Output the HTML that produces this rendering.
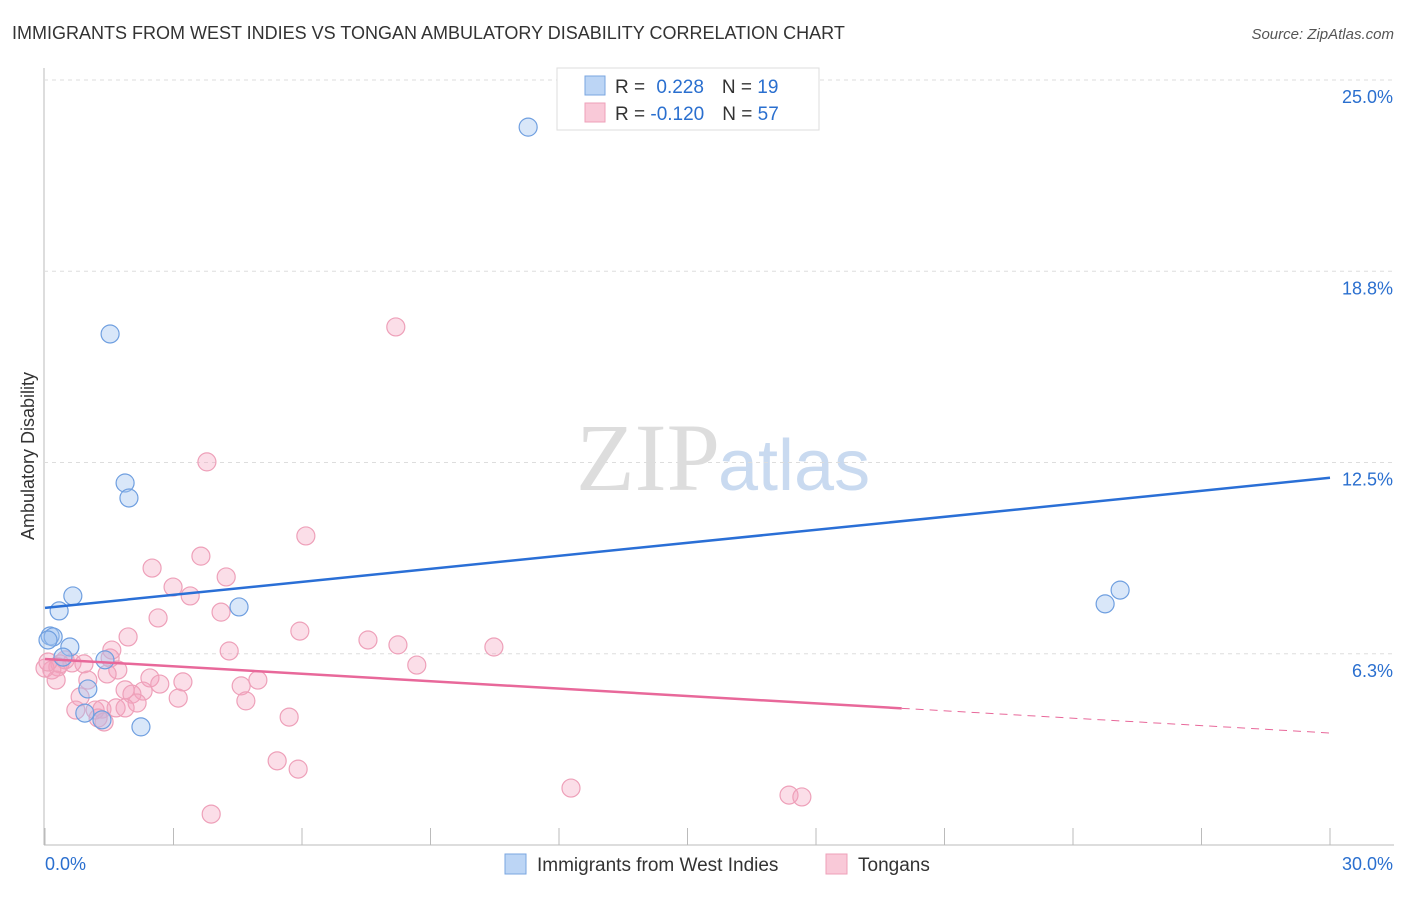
<!DOCTYPE html>
<html><head><meta charset="utf-8"><style>
body{margin:0;background:#fff;font-family:"Liberation Sans",sans-serif}
</style></head><body>
<svg id="c" width="1406" height="892" xmlns="http://www.w3.org/2000/svg" font-family="Liberation Sans, sans-serif">
<text x="12" y="39" font-size="18" fill="#333">IMMIGRANTS FROM WEST INDIES VS TONGAN AMBULATORY DISABILITY CORRELATION CHART</text>
<text x="1394" y="39" font-size="15" fill="#555" text-anchor="end" font-style="italic">Source: ZipAtlas.com</text>
<text x="720" y="490" font-size="96" text-anchor="end" fill="#ddd" font-family="Liberation Serif, serif">ZIP</text>
<text x="718" y="490" font-size="72" fill="#c9daf0">atlas</text>
<g id="grid"></g><g id="marks"></g>
<text transform="translate(34,456) rotate(-90)" font-size="18" fill="#333" text-anchor="middle">Ambulatory Disability</text>
<g>
<rect x="557" y="68" width="262" height="62" fill="#fff" stroke="#ddd"/>
<rect x="585" y="76" width="20" height="19" fill="#bcd5f5" stroke="#7aa6e0"/>
<rect x="585" y="103" width="20" height="19" fill="#f9c9d8" stroke="#eea0b9"/>
<text x="615" y="93" font-size="19" fill="#333">R = <tspan fill="#2a6fcf" dx="6">0.228</tspan><tspan dx="18">N = </tspan><tspan fill="#2a6fcf">19</tspan></text>
<text x="615" y="120" font-size="19" fill="#333">R = <tspan fill="#2a6fcf">-0.120</tspan><tspan dx="18">N = </tspan><tspan fill="#2a6fcf">57</tspan></text>
</g>
<g>
<rect x="505" y="854" width="21" height="20" fill="#bcd5f5" stroke="#7aa6e0"/>
<text x="537" y="871" font-size="19" fill="#333">Immigrants from West Indies</text>
<rect x="826" y="854" width="21" height="20" fill="#f9c9d8" stroke="#eea0b9"/>
<text x="858" y="871" font-size="19" fill="#333">Tongans</text>
</g>
</svg>
<script>
const yTicks=[6.25,12.5,18.75,25];
const yTickLabels=["6.3%","12.5%","18.8%","25.0%"];
const xTickLabels=["0.0%","30.0%"];
const blueX=[11.28,1.52,1.87,1.96,0.65,0.33,4.53,0.12,0.19,0.58,0.42,1.40,1.00,0.93,1.33,2.24,24.75,25.10,0.07];
const blueY=[23.46,16.70,11.83,11.34,8.14,7.65,7.78,6.83,6.80,6.47,6.14,6.05,5.10,4.31,4.09,3.86,7.88,8.33,6.70];
const pinkX=[8.19,3.78,6.09,2.50,3.64,4.23,2.99,3.39,2.64,4.11,1.94,5.95,7.54,8.24,10.48,4.30,8.68,1.52,0.91,0.63,0.35,0.16,0.30,1.70,1.45,1.00,2.45,3.22,2.68,4.97,1.87,2.29,2.03,4.58,0.82,3.11,4.69,2.15,0.72,1.17,1.33,1.66,1.87,1.24,1.38,5.70,5.42,5.91,12.28,17.37,17.67,3.88,0.26,0.47,0,0.07,1.56];
const pinkY=[16.93,12.52,10.10,9.05,9.44,8.76,8.43,8.14,7.42,7.61,6.80,6.99,6.70,6.54,6.47,6.34,5.88,6.11,5.92,5.95,5.92,5.72,5.82,5.72,5.59,5.39,5.46,5.33,5.26,5.39,5.07,5.03,4.93,5.20,4.84,4.80,4.71,4.64,4.41,4.41,4.44,4.48,4.48,4.15,4.02,4.18,2.75,2.48,1.86,1.63,1.57,1.01,5.39,6.05,5.78,5.98,6.37];
const blueTrend=[7.75,12.0];
const pinkTrend=[6.08,3.66];
const pinkSolidEnd=20.0;
const X=v=>45+v/30*1285, Y=v=>845-v/25*765;
const NS="http://www.w3.org/2000/svg";
const g=document.getElementById('grid'), m=document.getElementById('marks');
function mk(p,t,a){const e=document.createElementNS(NS,t);for(const k in a)e.setAttribute(k,a[k]);p.appendChild(e);return e;}
let e=mk(g,'line',{x1:44,y1:68,x2:44,y2:845,stroke:'#bbb'});


e=mk(g,'line',{x1:44,y1:845,x2:1394,y2:845,stroke:'#bbb'});


yTicks.forEach((t,i)=>{
 e=mk(g,'line',{x1:44,x2:1394,y1:Y(t),y2:Y(t),stroke:'#ddd','stroke-dasharray':'4,4'});
 
 
 e=mk(g,'text',{x:1393,y:Y(t)+23,'font-size':18,fill:'#2a6fcf','text-anchor':'end'});
 e.textContent=yTickLabels[i];
 
 
});
for(let i=0;i<=10;i++){
 e=mk(g,'line',{x1:X(i*3),x2:X(i*3),y1:828,y2:845,stroke:'#bbb'});
 
 
}
e=mk(g,'text',{x:45,y:870,'font-size':18,fill:'#2a6fcf'});e.textContent=xTickLabels[0];


e=mk(g,'text',{x:1393,y:870,'font-size':18,fill:'#2a6fcf','text-anchor':'end'});e.textContent=xTickLabels[1];


pinkX.forEach((x,i)=>{
 e=mk(m,'circle',{cx:X(x),cy:Y(pinkY[i]),r:9,fill:'rgba(244,160,188,0.35)',stroke:'#eea0b9','stroke-width':1.2});
 
 
});
blueX.forEach((x,i)=>{
 e=mk(m,'circle',{cx:X(x),cy:Y(blueY[i]),r:9,fill:'rgba(160,195,240,0.4)',stroke:'#6f9fe0','stroke-width':1.2});
 
 
});
e=mk(m,'line',{x1:X(0),y1:Y(blueTrend[0]),x2:X(30),y2:Y(blueTrend[1]),stroke:'#2a6fd6','stroke-width':2.5});


const py=x=>pinkTrend[0]+(pinkTrend[1]-pinkTrend[0])*x/30;
e=mk(m,'line',{x1:X(0),y1:Y(py(0)),x2:X(pinkSolidEnd),y2:Y(py(pinkSolidEnd)),stroke:'#e8689a','stroke-width':2.5});


e=mk(m,'line',{x1:X(pinkSolidEnd),y1:Y(py(pinkSolidEnd)),x2:X(30),y2:Y(py(30)),stroke:'#e8689a','stroke-width':1,'stroke-dasharray':'8,6'});


</script>
</body></html>
